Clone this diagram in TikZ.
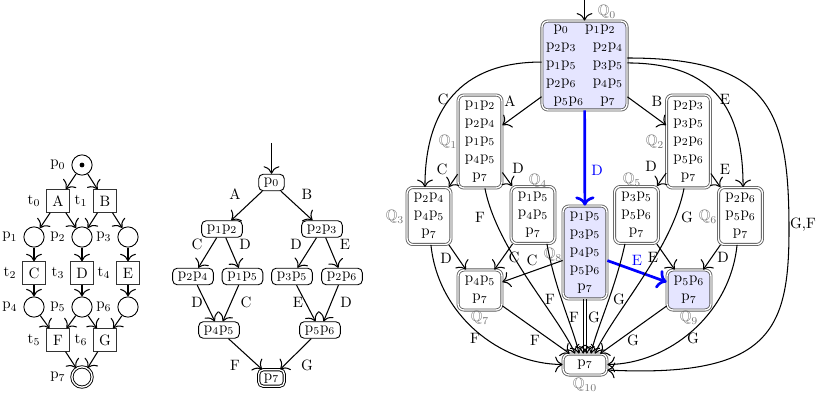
\documentclass[tikz,border=0pt]{standalone}
\usepackage{amssymb}
\usetikzlibrary{arrows.meta}
\newcommand{\pv}[1]{\mathrm{p}_{#1}}
\newcommand{\tv}[1]{\mathrm{t}_{#1}}
\newcommand{\qg}{\hspace{11pt}}
\begin{document}
\begin{tikzpicture}[x=0.6667pt,y=-0.6667pt,
  every node/.style={font=\fontsize{10}{12}\selectfont},
  arr/.style={line width=0.7pt,-{To[scale=1.6]}},
  bluearr/.style={draw=blue,line width=1.8pt,-{To[scale=1.1]}},
  place/.style={circle,draw,line width=0.6pt,minimum size=13.5pt,inner sep=0pt},
  trans/.style={rectangle,draw=black!80,line width=0.6pt,minimum size=15pt,inner sep=0pt},
  side/.style={label={[label distance=0.5pt]left:#1}},
  mnode/.style={draw,rounded corners=3pt,line width=0.6pt,inner xsep=3.5pt,inner ysep=2pt,text height=5pt,text depth=2pt},
  qn/.style={draw=black!65,double=white,double distance=0.9pt,line width=0.55pt,rounded corners=4pt,align=center,inner sep=0pt,minimum width=29.3pt},
  qlab/.style={text=black!55,inner sep=0pt},
  elab/.style={inner sep=0pt},
  blab/.style={inner sep=0pt,text=blue}]
\useasboundingbox (0,0) rectangle (817,397);

% ---------------- Petri net ----------------
\node[place,side={$\pv0$}] (p0) at (82,165) {};
\fill (p0.center) circle (1.6pt);
\node[trans,side={$\tv0$}] (tA) at (58,201) {A};
\node[trans,side={$\tv1$}] (tB) at (105,201) {B};
\node[place,side={$\pv1$}] (p1) at (34,237) {};
\node[place,side={$\pv2$}] (p2) at (82,237) {};
\node[place,side={$\pv3$}] (p3) at (128,237) {};
\node[trans,side={$\tv2$}] (tC) at (34,273) {C};
\node[trans,side={$\tv3$}] (tD) at (82,273) {D};
\node[trans,side={$\tv4$}] (tE) at (128,273) {E};
\node[place,side={$\pv4$}] (p4) at (34,307) {};
\node[place,side={$\pv5$}] (p5) at (82,307) {};
\node[place,side={$\pv6$}] (p6) at (128,307) {};
\node[trans,side={$\tv5$}] (tF) at (58,340) {F};
\node[trans,side={$\tv6$}] (tG) at (105,340) {G};
\node[place,double,double distance=0.9pt,side={$\pv7$}] (p7) at (82,377) {};
\foreach \a/\b in {p0/tA,p0/tB,tA/p1,tA/p2,tB/p2,tB/p3,p1/tC,p2/tD,p3/tE,
  tC/p4,tD/p5,tE/p6,p4/tF,p5/tF,p5/tG,p6/tG,tF/p7,tG/p7}
  \draw[arr] (\a) -- (\b);

% ---------------- middle graph ----------------
\coordinate (minit) at (271.5,143);
\node[mnode] (m0) at (271.5,182.5) {$\pv0$};
\node[mnode] (m12) at (222,229) {$\pv1\pv2$};
\node[mnode] (m23) at (322,229) {$\pv2\pv3$};
\node[mnode] (m24) at (193,276.5) {$\pv2\pv4$};
\node[mnode] (m15) at (242.5,276.5) {$\pv1\pv5$};
\node[mnode] (m35) at (292,276.5) {$\pv3\pv5$};
\node[mnode] (m26) at (342,276.5) {$\pv2\pv6$};
\node[mnode] (m45) at (219,330) {$\pv4\pv5$};
\node[mnode] (m56) at (320,330) {$\pv5\pv6$};
\node[mnode,double,double distance=0.9pt] (m7) at (271.5,378) {$\pv7$};
\draw[arr] (minit) -- (m0);
\foreach \a/\b in {m0/m12,m0/m23,m12/m24,m12/m15,m23/m35,m23/m26,
  m24/m45,m15/m45,m35/m56,m26/m56,m45/m7,m56/m7}
  \draw[arr] (\a) -- (\b);
\node[elab] (mlA) at (235,194) {A};
\node[elab] (mlB) at (307,194) {B};
\node[elab] (mlC1) at (197,244) {C};
\node[elab] (mlD1) at (245,244) {D};
\node[elab] (mlD2) at (296,244) {D};
\node[elab] (mlE1) at (345,244) {E};
\node[elab] (mlD3) at (197,302) {D};
\node[elab] (mlC2) at (246,302) {C};
\node[elab] (mlE2) at (298,302) {E};
\node[elab] (mlD4) at (346,302) {D};
\node[elab] (mlF) at (235,365) {F};
\node[elab] (mlG) at (307,365) {G};

% ---------------- right graph ----------------
\coordinate (qinit) at (584.5,0);
\node[qn,fill=blue!10,minimum width=56.7pt,minimum height=59.3pt] (q0) at (584.5,65.5)
  {$\pv0$\qg$\pv1\pv2$\\ $\pv2\pv3$\qg$\pv2\pv4$\\ $\pv1\pv5$\qg$\pv3\pv5$\\ $\pv2\pv6$\qg$\pv4\pv5$\\ $\pv5\pv6$\qg$\pv7$};
\node[qn,minimum height=62pt] (q1) at (480,141.5) {$\pv1\pv2$\\ $\pv2\pv4$\\ $\pv1\pv5$\\ $\pv4\pv5$\\ $\pv7$};
\node[qn,minimum height=62pt] (q2) at (688.5,141.5) {$\pv2\pv3$\\ $\pv3\pv5$\\ $\pv2\pv6$\\ $\pv5\pv6$\\ $\pv7$};
\node[qn,minimum height=38pt] (q3) at (429,216) {$\pv2\pv4$\\ $\pv4\pv5$\\ $\pv7$};
\node[qn,minimum height=38pt] (q4) at (533,215) {$\pv1\pv5$\\ $\pv4\pv5$\\ $\pv7$};
\node[qn,minimum height=38pt] (q5) at (636.5,215) {$\pv3\pv5$\\ $\pv5\pv6$\\ $\pv7$};
\node[qn,minimum height=38pt] (q6) at (740.5,216) {$\pv2\pv6$\\ $\pv5\pv6$\\ $\pv7$};
\node[qn,fill=blue!10,minimum height=62pt] (q8) at (585,252.5) {$\pv1\pv5$\\ $\pv3\pv5$\\ $\pv4\pv5$\\ $\pv5\pv6$\\ $\pv7$};
\node[qn,minimum height=26.7pt] (q7) at (480,290) {$\pv4\pv5$\\ $\pv7$};
\node[qn,fill=blue!10,minimum height=26.7pt] (q9) at (689,290) {$\pv5\pv6$\\ $\pv7$};
\node[qn,minimum height=14pt] (q10) at (585,364.5) {$\pv7$};

\node[qlab] (lq0) at (607,12) {$\mathbb{Q}_0$};
\node[qlab] (lq1) at (448,142) {$\mathbb{Q}_1$};
\node[qlab] (lq2) at (655,142) {$\mathbb{Q}_2$};
\node[qlab] (lq3) at (395,217) {$\mathbb{Q}_3$};
\node[qlab] (lq4) at (538,181) {$\mathbb{Q}_4$};
\node[qlab] (lq5) at (632,180) {$\mathbb{Q}_5$};
\node[qlab] (lq6) at (708,217) {$\mathbb{Q}_6$};
\node[qlab] (lq7) at (480,318) {$\mathbb{Q}_7$};
\node[qlab] (lq8) at (553,255) {$\mathbb{Q}_8$};
\node[qlab] (lq9) at (689,318) {$\mathbb{Q}_9$};
\node[qlab] (lq10) at (585,385) {$\mathbb{Q}_{10}$};

\draw[arr] (qinit) -- (q0);
\draw[arr] (q0) -- (q1);
\draw[arr] (q0) -- (q2);
\draw[bluearr] (q0) -- (q8);
\draw[arr] ([yshift=2.3pt]q0.west) .. controls (460,62) and (425,110) .. ([xshift=-2.7pt]q3.north);
\draw[arr] ([yshift=1.7pt]q0.east) .. controls (715,63) and (743,110) .. ([xshift=1.7pt]q6.north);
\draw[arr] ([yshift=5pt]q0.east) .. controls (770,58) and (789,110) .. (789,230)
  .. controls (789,330) and (770,378) .. ([yshift=-3.7pt]q10.east);
\foreach \a/\b in {q1/q3,q1/q4,q2/q5,q2/q6,q3/q7,q4/q7,q8/q7,q5/q9,q6/q9,q7/q10,q9/q10}
  \draw[arr] (\a) -- (\b);
\draw[bluearr] (q8) -- (q9);
\draw[arr] ([xshift=-1.2pt]q8.south) -- ([xshift=-1.2pt]q10.north);
\draw[arr] ([xshift=1.2pt]q8.south) -- ([xshift=1.2pt]q10.north);
\draw[arr] ([xshift=3.3pt]q1.south) .. controls (497,250) and (558,315) .. ([xshift=-6.7pt]q10.north);
\draw[arr] ([xshift=-3pt]q2.south) .. controls (672,250) and (612,315) .. ([xshift=6.7pt]q10.north);
\draw[arr] ([xshift=9.3pt]q4.south) .. controls (555,290) and (574,330) .. ([xshift=-4pt]q10.north);
\draw[arr] ([xshift=-7.7pt]q5.south) .. controls (615,290) and (596,330) .. ([xshift=4pt]q10.north);
\draw[arr] ([xshift=1.3pt]q3.south) .. controls (438,315) and (500,364) .. (q10.west);
\draw[arr] ([xshift=-2.3pt]q6.south) .. controls (730,315) and (668,364) .. (q10.east);

\node[elab] (rA) at (510,101) {A};
\node[elab] (rB) at (657,101) {B};
\node[elab] (rC0) at (443,99) {C};
\node[elab] (rE0) at (725,99) {E};
\node[blab] (rD0) at (597,170) {D};
\node[elab] (rC1) at (442,169) {C};
\node[elab] (rD1) at (518,168) {D};
\node[elab] (rD2) at (651,166) {D};
\node[elab] (rE2) at (725,169) {E};
\node[elab] (rF1) at (480,217) {F};
\node[elab] (rG2) at (687,217) {G};
\node[elab] (rD3) at (446,258) {D};
\node[elab] (rC4) at (514,257) {C};
\node[elab] (rC8) at (532,260) {C};
\node[elab] (rE5) at (653,257) {E};
\node[blab] (rE8) at (637,260) {E};
\node[elab] (rD6) at (723,257) {D};
\node[elab] (rF4) at (550,299) {F};
\node[elab] (rG5) at (619,299) {G};
\node[elab] (rF8) at (574,317) {F};
\node[elab] (rG8) at (594,317) {G};
\node[elab] (rF3) at (475,338) {F};
\node[elab] (rF7) at (535,340) {F};
\node[elab] (rG9) at (633,340) {G};
\node[elab] (rG6) at (693,338) {G};
\node[elab] (rGF) at (803,225) {G,F};
\end{tikzpicture}
\end{document}
